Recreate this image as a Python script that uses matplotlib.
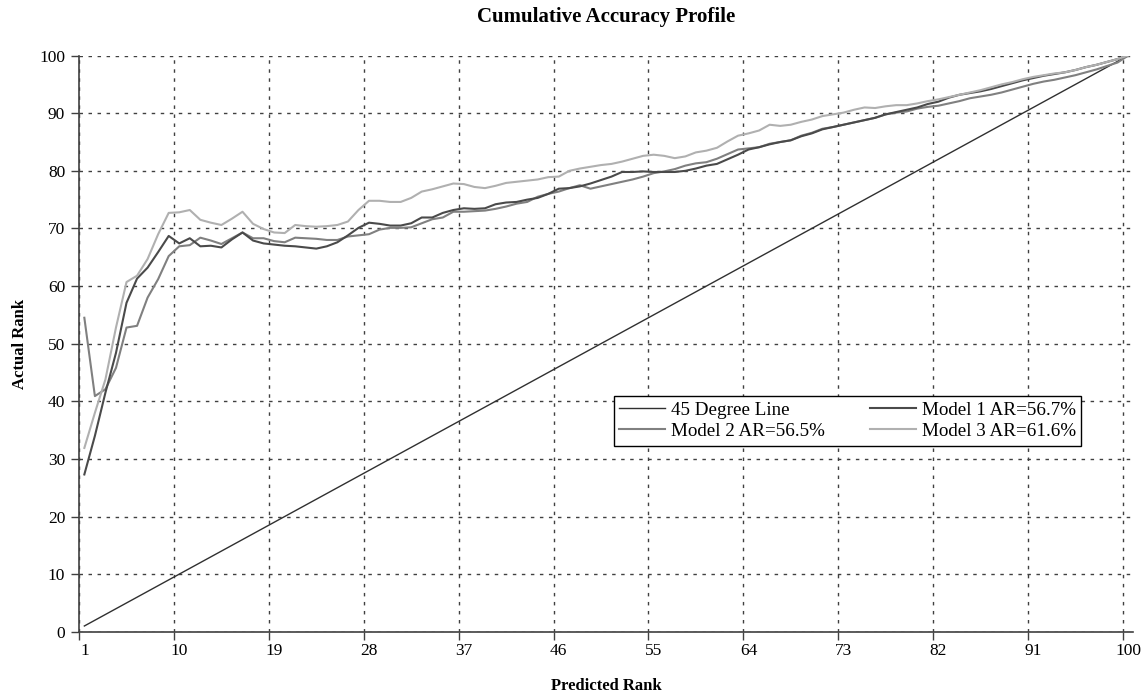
import matplotlib
matplotlib.use("Agg")
import matplotlib.pyplot as plt
import numpy as np

plt.rcParams['font.family'] = ['Liberation Serif', 'DejaVu Serif']

rank = list(range(1, 101))
tick_labels = [str(v) for v in range(1, 101, 9)]

# 45 degree reference line
diag = list(range(1, 101))

model1 = [27.3, 34.0, 41.5, 48.4, 57.1, 61.3, 63.2, 65.9, 68.7, 67.4,
          68.3, 66.9, 67.0, 66.7, 68.1, 69.3, 67.9, 67.4, 67.2, 67.0,
          66.9, 66.7, 66.5, 66.9, 67.6, 68.8, 70.1, 71.0, 70.8, 70.5,
          70.5, 70.9, 71.9, 71.9, 72.7, 73.2, 73.5, 73.4, 73.5, 74.2,
          74.5, 74.6, 75.0, 75.3, 76.0, 76.9, 77.0, 77.3, 77.8, 78.4,
          79.0, 79.8, 79.8, 79.9, 79.8, 79.8, 79.8, 80.0, 80.4, 80.9,
          81.2, 82.0, 82.8, 83.7, 84.1, 84.6, 85.0, 85.3, 86.0, 86.5,
          87.2, 87.6, 88.0, 88.4, 88.8, 89.2, 89.8, 90.2, 90.6, 91.0,
          91.6, 92.0, 92.7, 93.2, 93.5, 93.8, 94.2, 94.7, 95.2, 95.7,
          96.1, 96.5, 96.8, 97.1, 97.5, 98.0, 98.4, 98.9, 99.4, 100.0]

model2 = [54.5, 40.9, 42.1, 45.8, 52.8, 53.1, 58.0, 61.2, 65.2, 66.9,
          67.1, 68.4, 67.9, 67.3, 68.3, 69.3, 68.3, 68.3, 67.8, 67.6,
          68.4, 68.3, 68.2, 68.0, 68.0, 68.6, 68.8, 69.0, 69.8, 70.1,
          70.1, 70.2, 70.9, 71.6, 71.9, 72.9, 72.9, 73.0, 73.1, 73.4,
          73.8, 74.3, 74.6, 75.5, 76.0, 76.4, 77.0, 77.5, 76.9, 77.3,
          77.7, 78.1, 78.5, 79.0, 79.6, 79.9, 80.3, 80.9, 81.3, 81.5,
          82.1, 82.9, 83.7, 83.9, 84.1, 84.7, 85.0, 85.3, 86.1, 86.6,
          87.3, 87.6, 88.0, 88.4, 88.8, 89.2, 89.8, 90.1, 90.3, 90.8,
          91.1, 91.3, 91.7, 92.1, 92.6, 92.9, 93.2, 93.6, 94.1, 94.6,
          95.1, 95.5, 95.8, 96.2, 96.6, 97.1, 97.6, 98.2, 98.8, 100.0]

model3 = [31.9, 38.0, 43.8, 52.8, 60.7, 61.8, 64.7, 69.0, 72.7, 72.8,
          73.2, 71.5, 71.0, 70.6, 71.7, 72.9, 70.8, 69.9, 69.3, 69.2,
          70.6, 70.4, 70.3, 70.4, 70.6, 71.2, 73.2, 74.8, 74.8, 74.6,
          74.6, 75.3, 76.4, 76.8, 77.3, 77.8, 77.7, 77.2, 77.0, 77.4,
          77.9, 78.1, 78.3, 78.5, 78.9, 79.0, 80.0, 80.4, 80.7, 81.0,
          81.2, 81.6, 82.1, 82.6, 82.8, 82.6, 82.2, 82.5, 83.2, 83.5,
          84.0, 85.1, 86.1, 86.5, 87.0, 88.0, 87.8, 88.0, 88.5, 88.9,
          89.5, 89.8, 90.1, 90.6, 91.0, 90.9, 91.2, 91.4, 91.4, 91.7,
          92.1, 92.4, 92.8, 93.2, 93.6, 94.0, 94.5, 95.0, 95.4, 95.9,
          96.3, 96.6, 96.9, 97.1, 97.5, 98.0, 98.4, 98.9, 99.4, 100.0]

fig = plt.figure(figsize=(11.46, 6.95), dpi=100)
ax = fig.add_axes([0.069, 0.091, 0.920, 0.829])

ax.plot(rank, diag, color='#303030', lw=1.0, label='45 Degree Line')
ax.plot(rank, model2, color='#808080', lw=1.5, label='Model 2 AR=56.5%')
ax.plot(rank, model1, color='#4a4a4a', lw=1.5, label='Model 1 AR=56.7%')
ax.plot(rank, model3, color='#b0b0b0', lw=1.5, label='Model 3 AR=61.6%')

ax.set_xlim(0.5, 100.5)
ax.set_ylim(0, 100)

# category boundaries carry the ticks and grid, labels sit on the categories
ax.set_xticks(np.arange(0.5, 100, 9))
ax.set_xticklabels([])
ax.set_xticks(range(1, 101, 9), minor=True)
ax.set_xticklabels(tick_labels, minor=True)
ax.tick_params(axis='x', which='minor', length=0, pad=8, labelsize=12.5)
ax.tick_params(axis='x', which='major', direction='out', length=6, width=1, color='#404040')
ax.set_yticks(range(0, 101, 10))
ax.tick_params(axis='y', direction='out', length=6, width=1, color='#404040', labelsize=12.5, pad=4)

ax.grid(True, which='major', linestyle=(0, (2.5, 4)), color='#404040', lw=1.0)
ax.set_axisbelow(True)

for side in ['top', 'right']:
    ax.spines[side].set_visible(False)
for side in ['left', 'bottom']:
    ax.spines[side].set_color('#404040')
    ax.spines[side].set_linewidth(1.2)

ax.set_title('Cumulative Accuracy Profile', fontsize=15, fontweight='bold', pad=24)
ax.set_xlabel('Predicted Rank', fontsize=12, fontweight='bold', labelpad=14)
ax.set_ylabel('Actual Rank', fontsize=12, fontweight='bold', labelpad=8)

leg = ax.legend(ncol=2, loc='upper left', bbox_to_anchor=(0.507, 0.410),
                fontsize=13.7, frameon=True, fancybox=False, framealpha=1,
                edgecolor='black', handlelength=2.4, handletextpad=0.3,
                columnspacing=2.4, borderpad=0.3, labelspacing=0.22,
                borderaxespad=0)
leg.get_frame().set_linewidth(1.0)

plt.savefig('out.png', dpi=100)
